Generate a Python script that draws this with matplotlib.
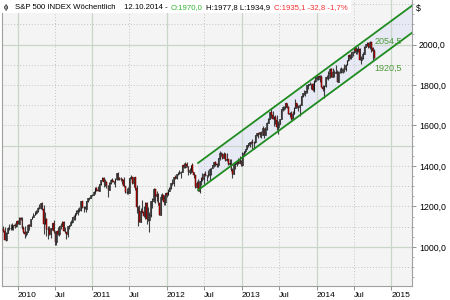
import matplotlib
matplotlib.use('Agg')
import matplotlib.pyplot as plt
import matplotlib.dates as mdates
from matplotlib.patches import Rectangle
import numpy as np

plt.rcParams['font.family'] = ['Liberation Sans', 'DejaVu Sans']

# Weekly S&P 500 candles, first week ending 2009-10-23
first_date = '2009-10-23'
first_open = 1090.0

closes = [
    # 2009
    1079.6, 1036.2, 1069.3, 1093.5, 1091.4, 1091.5, 1106.0, 1106.4, 1102.5, 1126.5, 1115.1,
    # 2010
    1145.0, 1136.0, 1091.8, 1073.9, 1066.2, 1075.5, 1109.2, 1104.5, 1138.7, 1150.0, 1159.9, 1166.6, 1178.1,
    1194.4, 1192.1, 1217.3, 1186.7, 1110.9, 1135.7, 1087.7, 1089.4, 1064.9, 1091.6, 1117.5, 1076.8, 1022.6,
    1078.0, 1064.9, 1102.7, 1101.6, 1121.6, 1079.3, 1071.7, 1064.6, 1104.5, 1109.6, 1125.6, 1148.7, 1146.1,
    1165.2, 1176.2, 1183.1, 1183.3, 1225.9, 1199.2, 1199.7, 1189.4, 1224.7, 1240.4, 1243.9, 1256.8, 1257.6,
    # 2011
    1271.5, 1293.2, 1283.4, 1276.3, 1310.9, 1329.2, 1343.0, 1319.9, 1321.2, 1304.3, 1279.2, 1313.8, 1332.4,
    1328.2, 1319.7, 1337.4, 1363.6, 1340.2, 1337.8, 1333.3, 1331.1, 1300.2, 1271.0, 1271.5, 1268.5, 1339.7,
    1343.8, 1316.1, 1345.0, 1292.3, 1199.4, 1178.8, 1123.5, 1176.8, 1174.0, 1154.2, 1216.0, 1136.4, 1131.4,
    1155.5, 1224.6, 1238.3, 1285.1, 1253.2, 1263.9, 1215.7, 1158.7, 1244.3, 1255.2, 1219.7, 1265.3, 1257.6,
    # 2012
    1277.8, 1289.1, 1315.4, 1316.3, 1344.9, 1342.6, 1361.2, 1365.7, 1369.6, 1370.9, 1404.2, 1397.1, 1408.5,
    1398.1, 1370.3, 1378.5, 1403.4, 1369.1, 1353.4, 1295.2, 1317.8, 1278.0, 1325.7, 1342.8, 1335.0, 1362.2,
    1354.7, 1356.8, 1362.7, 1386.0, 1391.0, 1405.9, 1418.2, 1411.1, 1406.6, 1437.9, 1465.8, 1460.2, 1440.7,
    1460.9, 1428.6, 1433.2, 1411.9, 1414.2, 1379.9, 1359.9, 1409.2, 1416.2, 1418.1, 1413.6, 1430.2, 1402.4,
    # 2013
    1466.5, 1472.1, 1486.0, 1503.0, 1513.2, 1517.9, 1519.8, 1515.6, 1518.2, 1551.2, 1560.7, 1556.9, 1569.2,
    1553.3, 1588.9, 1555.3, 1582.2, 1614.4, 1633.7, 1667.5, 1649.6, 1630.7, 1643.4, 1626.7, 1592.4, 1606.3,
    1631.9, 1680.2, 1692.1, 1691.7, 1709.7, 1691.4, 1655.8, 1663.5, 1633.0, 1655.2, 1688.0, 1709.9, 1691.8,
    1690.5, 1703.2, 1744.5, 1759.8, 1761.6, 1770.6, 1798.2, 1804.8, 1805.8, 1805.1, 1775.3, 1818.3, 1841.4,
    # 2014
    1831.4, 1842.4, 1838.7, 1790.3, 1782.6, 1797.0, 1838.6, 1836.3, 1859.5, 1878.0, 1841.1, 1866.5, 1857.6,
    1865.1, 1815.7, 1864.9, 1863.4, 1881.1, 1878.5, 1877.9, 1900.5, 1923.6, 1949.4, 1936.2, 1962.9, 1961.0,
    1985.4, 1967.6, 1978.2, 1978.3, 1925.2, 1931.6, 1955.1, 1988.4, 2003.4, 2007.7, 1985.5, 2010.4, 1982.9,
    1967.9, 1935.1,
]

highs = [
    1101, 1097, 1072, 1097, 1113, 1111, 1119, 1107, 1117, 1128, 1131,
    1146, 1150, 1150, 1104, 1104, 1080, 1112, 1113, 1139, 1151, 1170, 1180, 1181,
    1195, 1214, 1218, 1220, 1206, 1173, 1141, 1104, 1105, 1093, 1119, 1131, 1077,
    1079, 1100, 1104, 1120, 1130, 1129, 1100, 1076, 1105, 1110, 1132, 1149, 1158,
    1167, 1184, 1190, 1196, 1227, 1227, 1200, 1204, 1225, 1241, 1247, 1259, 1263,
    1277, 1294, 1296, 1302, 1311, 1330, 1344, 1344, 1336, 1326, 1304, 1319, 1337,
    1339, 1328, 1339, 1364, 1370, 1346, 1346, 1334, 1346, 1301, 1292, 1298, 1341,
    1356, 1344, 1347, 1345, 1307, 1200, 1208, 1190, 1230, 1204, 1220, 1220, 1195,
    1172, 1225, 1240, 1293, 1286, 1277, 1265, 1211, 1260, 1267, 1257, 1266, 1269,
    1285, 1297, 1316, 1334, 1346, 1354, 1362, 1368, 1378, 1374, 1405, 1414, 1420,
    1422, 1399, 1392, 1406, 1415, 1370, 1354, 1328, 1335, 1326, 1344, 1364, 1363,
    1375, 1357, 1380, 1390, 1392, 1407, 1419, 1427, 1414, 1438, 1474, 1467, 1463,
    1470, 1465, 1465, 1434, 1434, 1433, 1389, 1410, 1420, 1423, 1438, 1448, 1430,
    1467, 1473, 1486, 1503, 1514, 1518, 1525, 1531, 1525, 1552, 1564, 1564, 1570,
    1573, 1597, 1590, 1592, 1619, 1636, 1668, 1687, 1674, 1646, 1654, 1654, 1620,
    1632, 1680, 1694, 1698, 1710, 1707, 1696, 1669, 1670, 1670, 1690, 1730, 1711,
    1703, 1705, 1745, 1760, 1775, 1771, 1799, 1806, 1813, 1806, 1809, 1823, 1844,
    1849, 1843, 1850, 1849, 1798, 1798, 1840, 1847, 1867, 1883, 1882, 1883, 1875,
    1897, 1872, 1869, 1885, 1891, 1885, 1902, 1902, 1924, 1950, 1955, 1964, 1968,
    1986, 1983, 1984, 1991, 1985, 1942, 1964, 1993, 2004, 2012, 2008, 2019, 2011,
    1986, 1977.8,
]

lows = [
    1073, 1033, 1029, 1067, 1085, 1083, 1086, 1085, 1096, 1098, 1114,
    1114, 1131, 1090, 1071, 1044, 1056, 1076, 1086, 1105, 1136, 1146, 1159, 1165,
    1175, 1186, 1188, 1182, 1065, 1111, 1056, 1040, 1061, 1043, 1085, 1071, 1011,
    1010, 1060, 1056, 1088, 1104, 1077, 1068, 1040, 1048, 1091, 1107, 1120, 1131,
    1131, 1159, 1159, 1171, 1177, 1194, 1173, 1185, 1174, 1220, 1233, 1243, 1251,
    1257, 1263, 1275, 1275, 1276, 1307, 1324, 1294, 1303, 1291, 1249, 1279, 1313,
    1322, 1309, 1295, 1331, 1330, 1329, 1326, 1312, 1296, 1268, 1262, 1262, 1272,
    1334, 1309, 1296, 1283, 1168, 1101, 1122, 1121, 1170, 1150, 1136, 1114, 1128,
    1075, 1149, 1191, 1221, 1215, 1226, 1209, 1158, 1158, 1231, 1209, 1205, 1248,
    1257, 1275, 1287, 1306, 1300, 1337, 1334, 1356, 1361, 1340, 1370, 1392, 1391,
    1397, 1357, 1358, 1367, 1368, 1343, 1292, 1292, 1277, 1267, 1306, 1324, 1309,
    1350, 1325, 1346, 1329, 1354, 1389, 1397, 1399, 1397, 1396, 1429, 1449, 1436,
    1437, 1425, 1425, 1403, 1403, 1373, 1343, 1360, 1385, 1398, 1411, 1416, 1398,
    1401, 1456, 1463, 1482, 1495, 1495, 1508, 1486, 1485, 1514, 1548, 1538, 1545,
    1539, 1553, 1536, 1554, 1577, 1614, 1630, 1636, 1630, 1598, 1609, 1577, 1560,
    1605, 1632, 1673, 1676, 1681, 1685, 1655, 1640, 1627, 1633, 1656, 1687, 1688,
    1674, 1646, 1701, 1740, 1752, 1746, 1760, 1780, 1800, 1779, 1772, 1767, 1817,
    1827, 1823, 1815, 1790, 1770, 1738, 1791, 1828, 1825, 1834, 1839, 1839, 1842,
    1858, 1814, 1816, 1859, 1857, 1859, 1862, 1868, 1901, 1921, 1929, 1930, 1944,
    1958, 1952, 1955, 1965, 1925, 1904, 1928, 1955, 1987, 1991, 1983, 1979, 1964,
    1926, 1934.9,
]

# trend channel
chan_dates = ['2012-06-01', '2015-04-13']
chan_upper = [1415, 2192]
chan_lower = [1281, 2058]
chan_labels = [(2054.5, '2054,5'), (1920.5, '1920,5')]

# axes
x_range = ['2009-10-16', '2015-04-13']
y_range = [807, 2220]
year_ticks = ['2010-01-01', '2011-01-01', '2012-01-01', '2013-01-01', '2014-01-01', '2015-01-01']
jul_ticks = ['2010-07-01', '2011-07-01', '2012-07-01', '2013-07-01', '2014-07-01']
x_tick_dates = ['2010-01-01', '2010-07-01', '2011-01-01', '2011-07-01', '2012-01-01', '2012-07-01',
                '2013-01-01', '2013-07-01', '2014-01-01', '2014-07-01', '2015-01-01']
x_tick_labels = ['2010', 'Jul', '2011', 'Jul', '2012', 'Jul', '2013', 'Jul', '2014', 'Jul', '2015']
y_ticks = [1000, 1200, 1400, 1600, 1800, 2000]
y_tick_labels = ['1000,0', '1200,0', '1400,0', '1600,0', '1800,0', '2000,0']

header = [
    ('ϕ', 4, 'black'),
    ('S&P 500 INDEX Wöchentlich', 15, 'black'),
    ('12.10.2014 -', 124, 'black'),
    ('O:1970,0', 171, '#2fb52f'),
    ('H:1977,8 L:1934,9', 206, 'black'),
    ('C:1935,1 -32,8 -1,7%', 274, '#f03030'),
]

closes = np.array(closes)
opens = np.concatenate([[first_open], closes[:-1]])
highs = np.maximum(np.array(highs, dtype=float), np.maximum(opens, closes))
lows = np.minimum(np.array(lows, dtype=float), np.minimum(opens, closes))
dates = np.datetime64(first_date) + np.arange(len(closes)) * 7
x = mdates.date2num(dates)

fig = plt.figure(figsize=(4.5, 3), dpi=100)
fig.patch.set_facecolor('white')
ax = fig.add_axes([2 / 450, 14 / 300, 410 / 450, 286 / 300])
ax.set_facecolor('#f4f4f4')

# grid
for d in year_ticks:
    ax.axvline(mdates.datestr2num(d), color='#c9d6c9', lw=0.9, zorder=1)
for d in jul_ticks:
    ax.axvline(mdates.datestr2num(d), color='#c4c4c4', lw=0.7, ls=(0, (1, 2)), zorder=1)
for v in range(900, 2201, 100):
    if v % 500 == 0:
        ax.axhline(v, color='#c9d6c9', lw=0.9, zorder=1)
    else:
        ax.axhline(v, color='#c4c4c4', lw=0.7, ls=(0, (1, 2)), zorder=1)

# channel
cx = [mdates.datestr2num(d) for d in chan_dates]
ax.fill_between(cx, chan_lower, chan_upper, color='#e7e9f5', lw=0, zorder=0.5)
ax.plot(cx, chan_upper, color='#1f8c1f', lw=1.3, zorder=5)
ax.plot(cx, chan_lower, color='#1f8c1f', lw=1.3, zorder=5)
for val, txt in chan_labels:
    ax.annotate(txt, (x[-1], val), xytext=(0, -2.5), textcoords='offset points',
                ha='left', va='top', fontsize=6.5, color='#4f9a3c', zorder=6)

# candles
up = closes >= opens
ax.vlines(x, lows, highs, color='#404040', lw=0.8, zorder=3)
ax.bar(x[up], (closes - opens)[up], bottom=opens[up], width=4,
       facecolor='#e8e8e8', edgecolor='black', lw=0.45, zorder=4)
ax.bar(x[~up], (closes - opens)[~up], bottom=opens[~up], width=4,
       facecolor='#d80000', edgecolor='#5a0000', lw=0.35, zorder=4)

ax.set_xlim(mdates.datestr2num(x_range[0]), mdates.datestr2num(x_range[1]))
ax.set_ylim(*y_range)

ax.set_xticks([mdates.datestr2num(d) for d in x_tick_dates])
ax.set_xticklabels(x_tick_labels)
for lab in ax.get_xticklabels():
    lab.set_horizontalalignment('left')
ax.tick_params(axis='x', direction='out', length=3, width=0.6, color='#808080',
               labelsize=6, pad=1)

ax.yaxis.tick_right()
ax.set_yticks(y_ticks)
ax.set_yticklabels(y_tick_labels)
ax.set_yticks(np.arange(850, 2201, 50), minor=True)
ax.tick_params(axis='y', which='major', direction='out', length=3, width=0.6,
               color='#808080', labelsize=6.3, pad=2)
ax.tick_params(axis='y', which='minor', direction='out', length=1.5, width=0.5,
               color='#909090')

for s in ax.spines.values():
    s.set_color('#a0a0a0')
    s.set_linewidth(0.8)
ax.spines['top'].set_visible(False)

# header box and text
fig.patches.append(Rectangle((0, 1 - 13 / 300), 351 / 450, 13 / 300, transform=fig.transFigure,
                             facecolor='white', edgecolor='none', zorder=2))
for txt, px, col in header:
    fig.text(px / 450, 1 - 7.5 / 300, txt, color=col, fontsize=5.6, va='center', ha='left', zorder=3)
fig.text(416 / 450, 1 - 8 / 300, '$', fontsize=6.3, va='center', ha='left')

fig.savefig('out.png', dpi=100)
